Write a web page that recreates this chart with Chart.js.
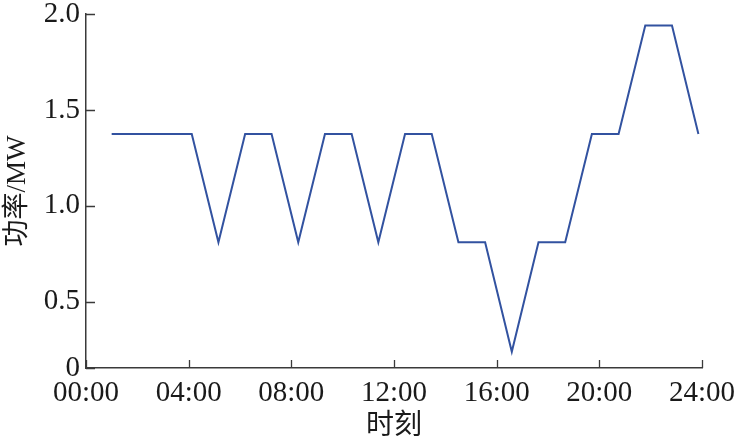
<!DOCTYPE html>
<html>
<head>
<meta charset="utf-8">
<script src="https://cdn.jsdelivr.net/npm/chart.js@4"></script>
<style>
  html, body { margin: 0; padding: 0; background: #fff; }
  #wrap { width: 740px; height: 441px; }
</style>
</head>
<body>
<div id="wrap"><canvas id="chart"></canvas></div>
<script>
// hours of each sample and power in MW
const hours = [1.0, 2.04, 3.08, 4.12, 5.16, 6.2, 7.23, 8.27, 9.31, 10.35, 11.39, 12.43,
               13.47, 14.51, 15.55, 16.59, 17.63, 18.67, 19.71, 20.75, 21.79, 22.83, 23.86];
const power = [1.375, 1.375, 1.375, 1.375, 0.81, 1.375, 1.375, 0.81, 1.375, 1.375, 0.81, 1.375,
               1.375, 0.81, 0.81, 0.24, 0.81, 0.81, 1.375, 1.375, 1.94, 1.94, 1.375];

const xTickValues = [0, 4, 8, 12, 16, 20, 24];
const xTickLabels = ['00:00', '04:00', '08:00', '12:00', '16:00', '20:00', '24:00'];
// the axis origin is labelled "0" although it sits above zero (broken axis)
const yTickValues = [0.155, 0.5, 1.0, 1.5, 2.0];
const yTickLabels = ['0', '0.5', '1.0', '1.5', '2.0'];

const axisColor = '#3a3a3a';
const textColor = '#1a1a1a';
const serif = '"Liberation Serif", "Noto Sans CJK SC", serif';

// small tick marks pointing into the plot
const innerTicks = {
  id: 'innerTicks',
  afterDraw(chart) {
    const { ctx, scales: { x, y } } = chart;
    ctx.save();
    ctx.strokeStyle = axisColor;
    ctx.lineWidth = 1.3;
    ctx.beginPath();
    xTickValues.forEach(v => {
      const px = Math.round(x.getPixelForValue(v)) + 0.5;
      ctx.moveTo(px, y.bottom);
      ctx.lineTo(px, y.bottom - 8);
    });
    yTickValues.forEach(v => {
      const py = Math.round(y.getPixelForValue(v)) + 0.5;
      ctx.moveTo(x.left, py);
      ctx.lineTo(x.left + 9, py);
    });
    ctx.stroke();
    ctx.restore();
  }
};

new Chart(document.getElementById('chart'), {
  type: 'line',
  data: {
    datasets: [{
      data: hours.map((h, i) => ({ x: h, y: power[i] })),
      borderColor: '#3252a0',
      borderWidth: 2,
      pointRadius: 0,
      tension: 0,
      fill: false
    }]
  },
  options: {
    responsive: true,
    maintainAspectRatio: false,
    animation: false,
    layout: { padding: { left: 0, right: 38, top: 14, bottom: 0 } },
    plugins: { legend: { display: false }, tooltip: { enabled: false } },
    scales: {
      x: {
        type: 'linear',
        min: 0,
        max: 24,
        afterBuildTicks: s => { s.ticks = xTickValues.map(v => ({ value: v })); },
        afterFit: s => { s.height = 73; s.paddingLeft = 0; s.paddingRight = 0; },
        grid: { display: false, drawTicks: false },
        border: { display: true, color: axisColor, width: 1.5 },
        ticks: {
          autoSkip: false,
          maxRotation: 0,
          padding: 8,
          color: textColor,
          font: { family: serif, size: 29 },
          callback: (v) => xTickLabels[xTickValues.indexOf(v)]
        },
        title: {
          display: true,
          text: '时刻',
          color: textColor,
          padding: { top: 0, bottom: 0 },
          font: { family: serif, size: 28, lineHeight: 1.0 }
        }
      },
      y: {
        type: 'linear',
        min: 0.155,
        max: 2.0,
        afterBuildTicks: s => { s.ticks = yTickValues.map(v => ({ value: v })); },
        afterFit: s => { s.width = 86; s.paddingTop = 0; s.paddingBottom = 0; },
        grid: { display: false, drawTicks: false },
        border: { display: true, color: axisColor, width: 1.5 },
        ticks: {
          autoSkip: false,
          padding: 6,
          color: textColor,
          font: { family: serif, size: 29 },
          callback: (v) => yTickLabels[yTickValues.indexOf(v)]
        },
        title: {
          display: true,
          text: '功率/MW',
          color: textColor,
          padding: { top: 2, bottom: 0 },
          font: { family: serif, size: 27 }
        }
      }
    }
  },
  plugins: [innerTicks]
});
</script>
</body>
</html>
